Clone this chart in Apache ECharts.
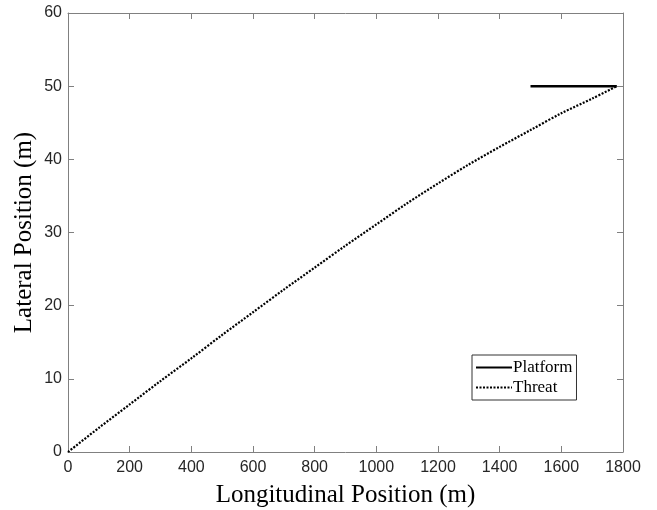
<!DOCTYPE html>
<html><head><meta charset="utf-8">
<script src="https://cdn.jsdelivr.net/npm/echarts@6/dist/echarts.min.js"></script>
<style>html,body{margin:0;padding:0;background:#fff}#c{width:657px;height:510px}</style>
</head><body><div id="c"></div>
<script>
var threatX = [0,100,200,300,400,500,600,700,800,900,1000,1100,1200,1300,1400,1500,1600,1700,1780];
var threatY = [0,3.3,6.5,9.7,12.8,16.0,19.1,22.2,25.2,28.2,31.1,34.0,36.7,39.3,41.7,44.0,46.3,48.3,50];
var platformX = [1500,1780];
var platformY = [50,50];
var xTicks = [0,200,400,600,800,1000,1200,1400,1600,1800];
var yTicks = [0,10,20,30,40,50,60];

function pairs(xs, ys){ return xs.map(function(x,i){ return [x, ys[i]]; }); }

var axisCol = '#808080';
var labelCol = '#262626';
var chart = echarts.init(document.getElementById('c'), null, {renderer:'canvas'});
chart.setOption({
  animation:false,
  backgroundColor:'#fff',
  grid:{left:68,right:34,top:13,bottom:58,show:false,containLabel:false,outerBoundsMode:'none'},
  legend:{
    left:472, top:355, orient:'vertical', itemWidth:36, itemHeight:10, itemGap:3,
    padding:[4,4,4,3], borderColor:'#333', borderWidth:1, backgroundColor:'#fff',
    itemStyle:{opacity:0},
    textStyle:{fontFamily:'Liberation Serif', fontSize:17, color:'#000', padding:[0,0,0,-4]},
    data:[{name:'Platform'},{name:'Threat'}]
  },
  xAxis:[{
    type:'value', min:0, max:1800, interval:200, position:'bottom',
    name:'Longitudinal Position (m)', nameLocation:'middle', nameGap:31,
    nameTextStyle:{fontFamily:'Liberation Serif', fontSize:25, color:'#000'},
    axisLine:{show:true,onZero:false,lineStyle:{color:axisCol}},
    axisTick:{show:true,inside:true,length:6,lineStyle:{color:axisCol}},
    axisLabel:{fontFamily:'Liberation Sans', fontSize:16, color:labelCol, margin:8,
      formatter:function(v){return String(v);}},
    splitLine:{show:false}
  },{
    type:'value', min:0, max:1800, interval:200, position:'top',
    axisLine:{show:true,onZero:false,lineStyle:{color:axisCol}},
    axisTick:{show:true,inside:true,length:6,lineStyle:{color:axisCol}},
    axisLabel:{show:false}, splitLine:{show:false}
  }],
  yAxis:[{
    type:'value', min:0, max:60, interval:10, position:'left',
    name:'Lateral Position (m)', nameLocation:'middle', nameGap:31, nameRotate:90,
    nameMoveOverlap:false,
    nameTextStyle:{fontFamily:'Liberation Serif', fontSize:25, color:'#000'},
    axisLine:{show:true,onZero:false,lineStyle:{color:axisCol}},
    axisTick:{show:true,inside:true,length:6,lineStyle:{color:axisCol}},
    axisLabel:{fontFamily:'Liberation Sans', fontSize:16, color:labelCol, margin:6,
      formatter:function(v){return String(v);}},
    splitLine:{show:false}
  },{
    type:'value', min:0, max:60, interval:10, position:'right',
    axisLine:{show:true,onZero:false,lineStyle:{color:axisCol}},
    axisTick:{show:true,inside:true,length:6,lineStyle:{color:axisCol}},
    axisLabel:{show:false}, splitLine:{show:false}
  }],
  series:[{
    name:'Platform', type:'line', data:pairs(platformX, platformY),
    showSymbol:false, symbol:'none', lineStyle:{color:'#000', width:2.5, type:'solid'},
    itemStyle:{color:'#000'}, z:3
  },{
    name:'Threat', type:'line', data:pairs(threatX, threatY), smooth:0.3,
    showSymbol:false, symbol:'none', lineStyle:{color:'#000', width:2.2, type:[2,1.5]},
    itemStyle:{color:'#000'}, z:2
  }]
});
</script></body></html>
